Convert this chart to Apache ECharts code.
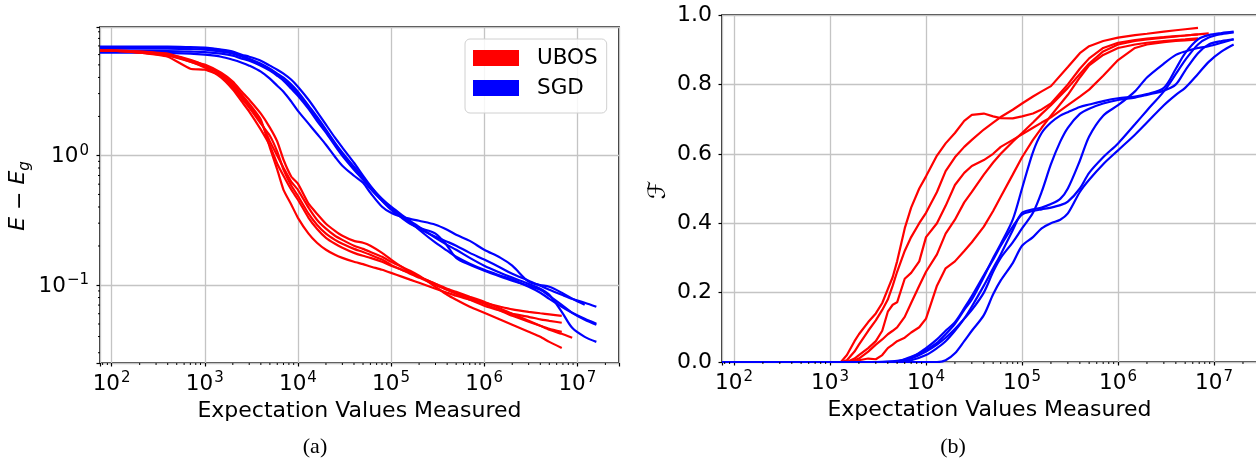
<!DOCTYPE html>
<html>
<head>
<meta charset="utf-8">
<script src="https://cdn.jsdelivr.net/npm/echarts@6.0.0/dist/echarts.min.js"></script>
<style>
  html, body { margin: 0; padding: 0; background: #fff; }
  #chart { width: 1256px; height: 459px; }
</style>
</head>
<body>
<div id="chart"></div>
<script>
// ---- panel (a): E - E_g, log-log ----
var xA = [75, 100, 200, 400, 700, 1000, 1500, 2000, 2500, 3000, 4000, 5000, 6000, 7000, 8500,
  1e4, 1.3e4, 1.6e4, 2e4, 2.5e4, 3e4, 4e4, 5e4, 6e4, 8e4, 1e5, 1.3e5, 1.6e5, 2e5, 3e5, 4e5, 5e5, 7e5,
  1e6, 1.5e6, 2e6, 3e6, 4e6, 5e6, 6.8e6, 8.8e6, 1.2e7, 1.6e7];

var ubosA = [
  [6.43, 6.43, 6.21, 5.89, 5.29, 4.84, 4.28, 3.58, 2.94, 2.51, 1.89, 1.15, 0.776, 0.543, 0.416, 0.330, 0.249, 0.212, 0.187, 0.171, 0.162, 0.151, 0.145, 0.139, 0.131, 0.124, 0.116, 0.110, 0.104, 0.0935, 0.0871, 0.0825, 0.0769, 0.0729, 0.0679, 0.0649, 0.0621, 0.0605, 0.0594, 0.0578],
  [6.43, 6.43, 6.32, 6.10, 5.39, 5.02, 4.35, 3.71, 3.10, 2.69, 2.10, 1.64, 1.28, 0.926, 0.685, 0.605, 0.424, 0.355, 0.297, 0.262, 0.240, 0.219, 0.212, 0.201, 0.177, 0.157, 0.138, 0.126, 0.116, 0.102, 0.0918, 0.0855, 0.0769, 0.0691, 0.0632, 0.0599, 0.0568, 0.0543, 0.0529, 0.0511],
  [6.43, 6.43, 6.21, 5.78, 4.67, 4.59, 4.12, 3.33, 2.74, 2.34, 1.76, 1.42, 1.07, 0.776, 0.583, 0.488, 0.355, 0.292, 0.249, 0.223, 0.208, 0.190, 0.180, 0.171, 0.157, 0.143, 0.131, 0.122, 0.114, 0.100, 0.0918, 0.0871, 0.0796, 0.0716, 0.0632, 0.0578, 0.0520, 0.0484, 0.0459, 0.0435],
  [6.43, 6.43, 6.21, 5.99, 5.29, 4.76, 3.98, 3.22, 2.60, 2.18, 1.58, 1.19, 0.863, 0.697, 0.543, 0.455, 0.330, 0.272, 0.231, 0.208, 0.194, 0.177, 0.168, 0.162, 0.151, 0.141, 0.131, 0.124, 0.116, 0.102, 0.0935, 0.0886, 0.0811, 0.0742, 0.0655, 0.0599, 0.0529, 0.0484, 0.0451, 0.0420, 0.0391],
  [6.43, 6.43, 6.32, 5.99, 5.48, 4.93, 4.20, 3.45, 2.84, 2.42, 1.82, 1.28, 0.995, 0.804, 0.626, 0.543, 0.395, 0.319, 0.272, 0.240, 0.223, 0.201, 0.190, 0.180, 0.165, 0.151, 0.138, 0.129, 0.118, 0.0968, 0.0840, 0.0769, 0.0679, 0.0610, 0.0539, 0.0493, 0.0435, 0.0398, 0.0364, 0.0327]
];

var sgdA = [
  [6.21, 6.21, 6.21, 6.16, 6.10, 5.99, 5.78, 5.48, 5.20, 4.93, 4.43, 3.91, 3.45, 3.10, 2.60, 2.21, 1.76, 1.47, 1.21, 0.977, 0.833, 0.697, 0.615, 0.515, 0.402, 0.361, 0.336, 0.324, 0.313, 0.292, 0.267, 0.244, 0.219, 0.187, 0.162, 0.141, 0.106, 0.100, 0.0968, 0.0871, 0.0782, 0.0703],
  [6.91, 6.91, 6.91, 6.91, 6.85, 6.79, 6.55, 6.32, 5.99, 5.78, 5.39, 4.93, 4.59, 4.28, 3.84, 3.39, 2.69, 2.18, 1.73, 1.37, 1.15, 0.878, 0.697, 0.583, 0.455, 0.395, 0.336, 0.302, 0.272, 0.236, 0.216, 0.201, 0.177, 0.157, 0.136, 0.122, 0.108, 0.0986, 0.0918, 0.0840, 0.0782, 0.0729, 0.0679],
  [6.85, 6.85, 6.85, 6.85, 6.79, 6.73, 6.49, 6.21, 5.89, 5.58, 5.11, 4.67, 4.28, 3.98, 3.52, 3.10, 2.42, 1.99, 1.58, 1.25, 1.05, 0.818, 0.673, 0.563, 0.447, 0.381, 0.330, 0.297, 0.276, 0.249, 0.201, 0.162, 0.143, 0.129, 0.116, 0.108, 0.0986, 0.0918, 0.0825, 0.0703, 0.0610, 0.0539, 0.0493],
  [6.67, 6.67, 6.67, 6.67, 6.61, 6.55, 6.32, 6.10, 5.78, 5.48, 5.02, 4.59, 4.20, 3.84, 3.39, 2.99, 2.38, 1.95, 1.55, 1.23, 1.03, 0.804, 0.673, 0.573, 0.463, 0.402, 0.348, 0.313, 0.281, 0.231, 0.204, 0.187, 0.162, 0.141, 0.124, 0.114, 0.102, 0.0935, 0.0840, 0.0621, 0.0467, 0.0398, 0.0364],
  [6.38, 6.38, 6.38, 6.38, 6.32, 6.27, 6.10, 5.89, 5.58, 5.39, 4.93, 4.51, 4.12, 3.78, 3.27, 2.89, 2.29, 1.85, 1.50, 1.19, 0.995, 0.776, 0.649, 0.553, 0.447, 0.388, 0.342, 0.308, 0.267, 0.212, 0.184, 0.165, 0.146, 0.131, 0.118, 0.110, 0.0968, 0.0871, 0.0782, 0.0679, 0.0610, 0.0548, 0.0502]
];

// ---- panel (b): fidelity ----
var xUbosB = [75, 1000, 1300, 1500, 1800, 2000, 2500, 3000, 3500, 4000, 4500, 5000, 6000, 7000, 8500,
  1e4, 1.3e4, 1.6e4, 2e4, 2.5e4, 3e4, 4e4, 5e4, 6e4, 8e4, 1e5, 1.3e5, 1.6e5, 2e5, 3e5, 4e5, 5e5, 7e5,
  1e6, 1.5e6, 2e6, 3e6, 4e6, 5e6, 6.8e6, 8.8e6];

var ubosB = [
  [0, 0, 0, 0.02, 0.06, 0.08, 0.115, 0.14, 0.17, 0.21, 0.245, 0.29, 0.385, 0.445, 0.50, 0.535, 0.595, 0.63, 0.66, 0.695, 0.712, 0.716, 0.708, 0.703, 0.702, 0.708, 0.716, 0.728, 0.745, 0.80, 0.845, 0.875, 0.905, 0.92, 0.928, 0.932, 0.936, 0.939, 0.941, 0.944],
  [0, 0, 0, 0.005, 0.03, 0.05, 0.09, 0.12, 0.15, 0.18, 0.22, 0.26, 0.32, 0.36, 0.40, 0.43, 0.49, 0.55, 0.59, 0.62, 0.64, 0.67, 0.69, 0.706, 0.727, 0.745, 0.765, 0.78, 0.795, 0.85, 0.89, 0.91, 0.925, 0.935, 0.942, 0.946, 0.952, 0.956, 0.959, 0.963],
  [0, 0, 0, 0, 0.01, 0.02, 0.04, 0.06, 0.09, 0.145, 0.165, 0.172, 0.24, 0.257, 0.29, 0.36, 0.40, 0.45, 0.51, 0.545, 0.565, 0.582, 0.60, 0.62, 0.64, 0.656, 0.675, 0.69, 0.705, 0.74, 0.765, 0.785, 0.825, 0.87, 0.905, 0.915, 0.922, 0.925, 0.927, 0.93],
  [0, 0, 0, 0, 0, 0.005, 0.01, 0.008, 0.02, 0.04, 0.05, 0.06, 0.07, 0.085, 0.10, 0.125, 0.22, 0.27, 0.29, 0.32, 0.345, 0.39, 0.435, 0.476, 0.54, 0.59, 0.64, 0.675, 0.71, 0.77, 0.82, 0.855, 0.885, 0.905, 0.915, 0.92, 0.925, 0.928, 0.93, 0.933],
  [0, 0, 0, 0, 0.005, 0.01, 0.03, 0.05, 0.065, 0.08, 0.09, 0.10, 0.13, 0.17, 0.22, 0.26, 0.31, 0.37, 0.41, 0.46, 0.49, 0.54, 0.575, 0.60, 0.635, 0.66, 0.69, 0.715, 0.74, 0.79, 0.83, 0.86, 0.895, 0.915, 0.925, 0.93, 0.935, 0.938, 0.941, 0.944, 0.947]
];

var xSgdB = [75, 1000, 3000, 5000, 7000, 1e4, 1.3e4, 1.6e4, 2e4, 2.5e4, 3e4, 4e4, 5e4, 6e4, 8e4,
  1e5, 1.3e5, 1.6e5, 2e5, 2.5e5, 3e5, 4e5, 5e5, 7e5, 1e6, 1.5e6, 2e6, 3e6, 4e6, 5e6, 6.8e6, 8.8e6, 1.2e7, 1.6e7];

var sgdB = [
  [0, 0, 0, 0.002, 0.015, 0.035, 0.055, 0.08, 0.11, 0.15, 0.18, 0.245, 0.30, 0.34, 0.41, 0.50, 0.605, 0.66, 0.69, 0.71, 0.72, 0.735, 0.742, 0.752, 0.76, 0.765, 0.772, 0.79, 0.845, 0.89, 0.93, 0.942, 0.948, 0.952],
  [0, 0, 0, 0, 0.01, 0.03, 0.05, 0.07, 0.095, 0.125, 0.15, 0.20, 0.26, 0.30, 0.345, 0.385, 0.43, 0.49, 0.57, 0.635, 0.675, 0.715, 0.73, 0.745, 0.755, 0.762, 0.77, 0.782, 0.80, 0.84, 0.89, 0.915, 0.925, 0.93],
  [0, 0, 0, 0, 0.005, 0.02, 0.04, 0.06, 0.09, 0.125, 0.16, 0.22, 0.27, 0.31, 0.38, 0.43, 0.44, 0.445, 0.455, 0.47, 0.50, 0.58, 0.65, 0.71, 0.74, 0.78, 0.82, 0.86, 0.885, 0.895, 0.905, 0.91, 0.92, 0.93],
  [0, 0, 0, 0.003, 0.012, 0.04, 0.065, 0.09, 0.115, 0.155, 0.19, 0.25, 0.295, 0.335, 0.39, 0.425, 0.435, 0.44, 0.445, 0.452, 0.462, 0.50, 0.545, 0.59, 0.63, 0.685, 0.725, 0.78, 0.83, 0.87, 0.915, 0.935, 0.945, 0.95],
  [0, 0, 0, 0, 0, 0, 0, 0.005, 0.025, 0.06, 0.09, 0.135, 0.195, 0.235, 0.285, 0.335, 0.36, 0.385, 0.40, 0.41, 0.428, 0.49, 0.525, 0.57, 0.61, 0.655, 0.69, 0.74, 0.77, 0.79, 0.83, 0.865, 0.895, 0.915]
];

// axis limits and ticks
var xMin = 75, xMax = 2.8e7;
var yMinA = 0.025, yMaxA = 9.8;
var fidelityTicks = [0, 0.2, 0.4, 0.6, 0.8, 1.0];
var minorMults = [2, 3, 4, 5, 6, 7, 8, 9];
var xDecades = [10, 100, 1000, 1e4, 1e5, 1e6, 1e7];
var yDecadesA = [0.01, 0.1, 1];

var FONT = 'DejaVu Sans';
var RED = '#ff0000', BLUE = '#0000ff';

function pairs(xs, ys) {
  return ys.map(function (y, i) { return [xs[i], y]; });
}

function minorValues(decades, lo, hi) {
  var out = [];
  decades.forEach(function (d) {
    minorMults.forEach(function (m) {
      var v = m * d;
      if (v > lo && v < hi) out.push(v);
    });
  });
  return out;
}

function expLabel(v) {
  var l = Math.log10(v), e = Math.round(l);
  if (Math.abs(l - e) > 1e-6) return '';
  return '{b|10}{s|' + (e < 0 ? '\u2212' + (-e) : e) + '}';
}

var richSup = {
  b: { fontSize: 21.5, fontFamily: FONT, color: '#000', verticalAlign: 'bottom' },
  s: { fontSize: 15, fontFamily: FONT, color: '#000', verticalAlign: 'bottom', padding: [0, 0, 9, 1] }
};

function lineSeries(name, color, data, gi, smooth) {
  return {
    type: 'line', name: name, xAxisIndex: gi, yAxisIndex: gi,
    data: data, showSymbol: false, symbol: 'none', smooth: smooth,
    lineStyle: { color: color, width: 2.2 }, itemStyle: { color: color },
    emphasis: { disabled: true }, silent: true, z: 3
  };
}

function minorTickSeries(gi, data, dir, len) {
  return {
    type: 'custom', xAxisIndex: gi, yAxisIndex: gi, silent: true, clip: false, z: 5,
    data: data,
    renderItem: function (params, api) {
      var p = api.coord([api.value(0), api.value(1)]);
      var shape = dir === 'x'
        ? { x1: p[0], y1: p[1], x2: p[0], y2: p[1] + len }
        : { x1: p[0], y1: p[1], x2: p[0] - len, y2: p[1] };
      return { type: 'line', shape: shape, style: { stroke: '#000', lineWidth: 1 } };
    }
  };
}

var xMinor = minorValues(xDecades, xMin, xMax);
var yMinorA = minorValues(yDecadesA, yMinA, yMaxA);

function logXAxis(gi) {
  return {
    gridIndex: gi, type: 'log', logBase: 10, min: xMin, max: xMax,
    axisLine: { show: false },
    axisTick: { show: true, length: 3.5, lineStyle: { color: '#000', width: 1.2 } },
    axisLabel: { formatter: expLabel, rich: richSup, margin: 8 },
    splitLine: { show: true, lineStyle: { color: '#c4c4c4', width: 1.3 } },
    name: 'Expectation Values Measured', nameLocation: 'middle', nameGap: 34,
    nameTextStyle: { fontSize: 22, fontFamily: FONT, color: '#000' }
  };
}

var series = [];
sgdA.forEach(function (ys) { series.push(lineSeries('SGD', BLUE, pairs(xA, ys), 0, 0.3)); });
ubosA.forEach(function (ys) { series.push(lineSeries('UBOS', RED, pairs(xA, ys), 0, 0.15)); });
ubosB.forEach(function (ys) { series.push(lineSeries('UBOS', RED, pairs(xUbosB, ys), 1, false)); });
sgdB.forEach(function (ys) { series.push(lineSeries('SGD', BLUE, pairs(xSgdB, ys), 1, 0.3)); });
series.push(minorTickSeries(0, xMinor.map(function (v) { return [v, yMinA]; }), 'x', 2));
series.push(minorTickSeries(0, yMinorA.map(function (v) { return [xMin, v]; }), 'y', 2));
series.push(minorTickSeries(1, xMinor.map(function (v) { return [v, 0]; }), 'x', 2));

var chart = echarts.init(document.getElementById('chart'), null, { renderer: 'canvas' });
chart.setOption({
  animation: false,
  backgroundColor: '#fff',
  textStyle: { fontFamily: FONT },
  grid: [
    { left: 100, top: 27, width: 519, height: 336, show: true, borderColor: '#000', borderWidth: 1.6, outerBoundsMode: 'none' },
    { left: 722, top: 15, width: 535, height: 347, show: true, borderColor: '#000', borderWidth: 1.6, outerBoundsMode: 'none' }
  ],
  xAxis: [logXAxis(0), logXAxis(1)],
  yAxis: [
    {
      gridIndex: 0, type: 'log', logBase: 10, min: yMinA, max: yMaxA,
      axisLine: { show: false },
      axisTick: { show: true, length: 3.5, lineStyle: { color: '#000', width: 1.2 } },
      axisLabel: { formatter: expLabel, rich: richSup, margin: 11 },
      splitLine: { show: true, lineStyle: { color: '#c4c4c4', width: 1.3 } }
    },
    {
      gridIndex: 1, type: 'value', min: fidelityTicks[0], max: fidelityTicks[fidelityTicks.length - 1], interval: 0.2,
      axisLine: { show: false },
      axisTick: { show: true, length: 3.5, lineStyle: { color: '#000', width: 1.2 } },
      axisLabel: { formatter: function (v) { return v.toFixed(1); }, fontSize: 22, fontFamily: FONT, color: '#000', margin: 10 },
      splitLine: { show: true, lineStyle: { color: '#c4c4c4', width: 1.3 } }
    }
  ],
  legend: {
    data: ['UBOS', 'SGD'], orient: 'vertical', left: 465, top: 39,
    icon: 'rect', itemWidth: 46, itemHeight: 16, itemGap: 8,
    padding: [8, 9, 14, 8], selectedMode: false,
    borderColor: '#d0d0d0', borderWidth: 1, borderRadius: 5,
    backgroundColor: 'rgba(255,255,255,0.85)',
    textStyle: { fontSize: 21.5, fontFamily: FONT, color: '#000', padding: [0, 0, 0, 13] }
  },
  graphic: [
    {
      type: 'text', x: 20, y: 196, rotation: Math.PI / 2, silent: true,
      style: {
        text: '{i|E} \u2212 {i|E}{s|g}', align: 'center', verticalAlign: 'middle', fill: '#000',
        fontSize: 22, fontFamily: FONT,
        rich: {
          i: { fontSize: 22, fontStyle: 'italic', fontFamily: FONT, verticalAlign: 'top' },
          s: { fontSize: 15, fontStyle: 'italic', fontFamily: FONT, verticalAlign: 'top', padding: [10, 0, 0, 0] }
        }
      }
    },
    {
      type: 'text', x: 659, y: 190, rotation: Math.PI / 2, silent: true,
      style: { text: '\u2131', align: 'center', verticalAlign: 'middle', fill: '#000', fontSize: 24, fontFamily: FONT }
    },
    {
      type: 'text', x: 315, y: 447, silent: true,
      style: { text: '(a)', align: 'center', verticalAlign: 'middle', fill: '#000', fontSize: 22, fontFamily: 'Liberation Serif' }
    },
    {
      type: 'text', x: 953, y: 447, silent: true,
      style: { text: '(b)', align: 'center', verticalAlign: 'middle', fill: '#000', fontSize: 22, fontFamily: 'Liberation Serif' }
    }
  ],
  series: series
});
window.addEventListener('resize', function () { chart.resize(); });
</script>
</body>
</html>
